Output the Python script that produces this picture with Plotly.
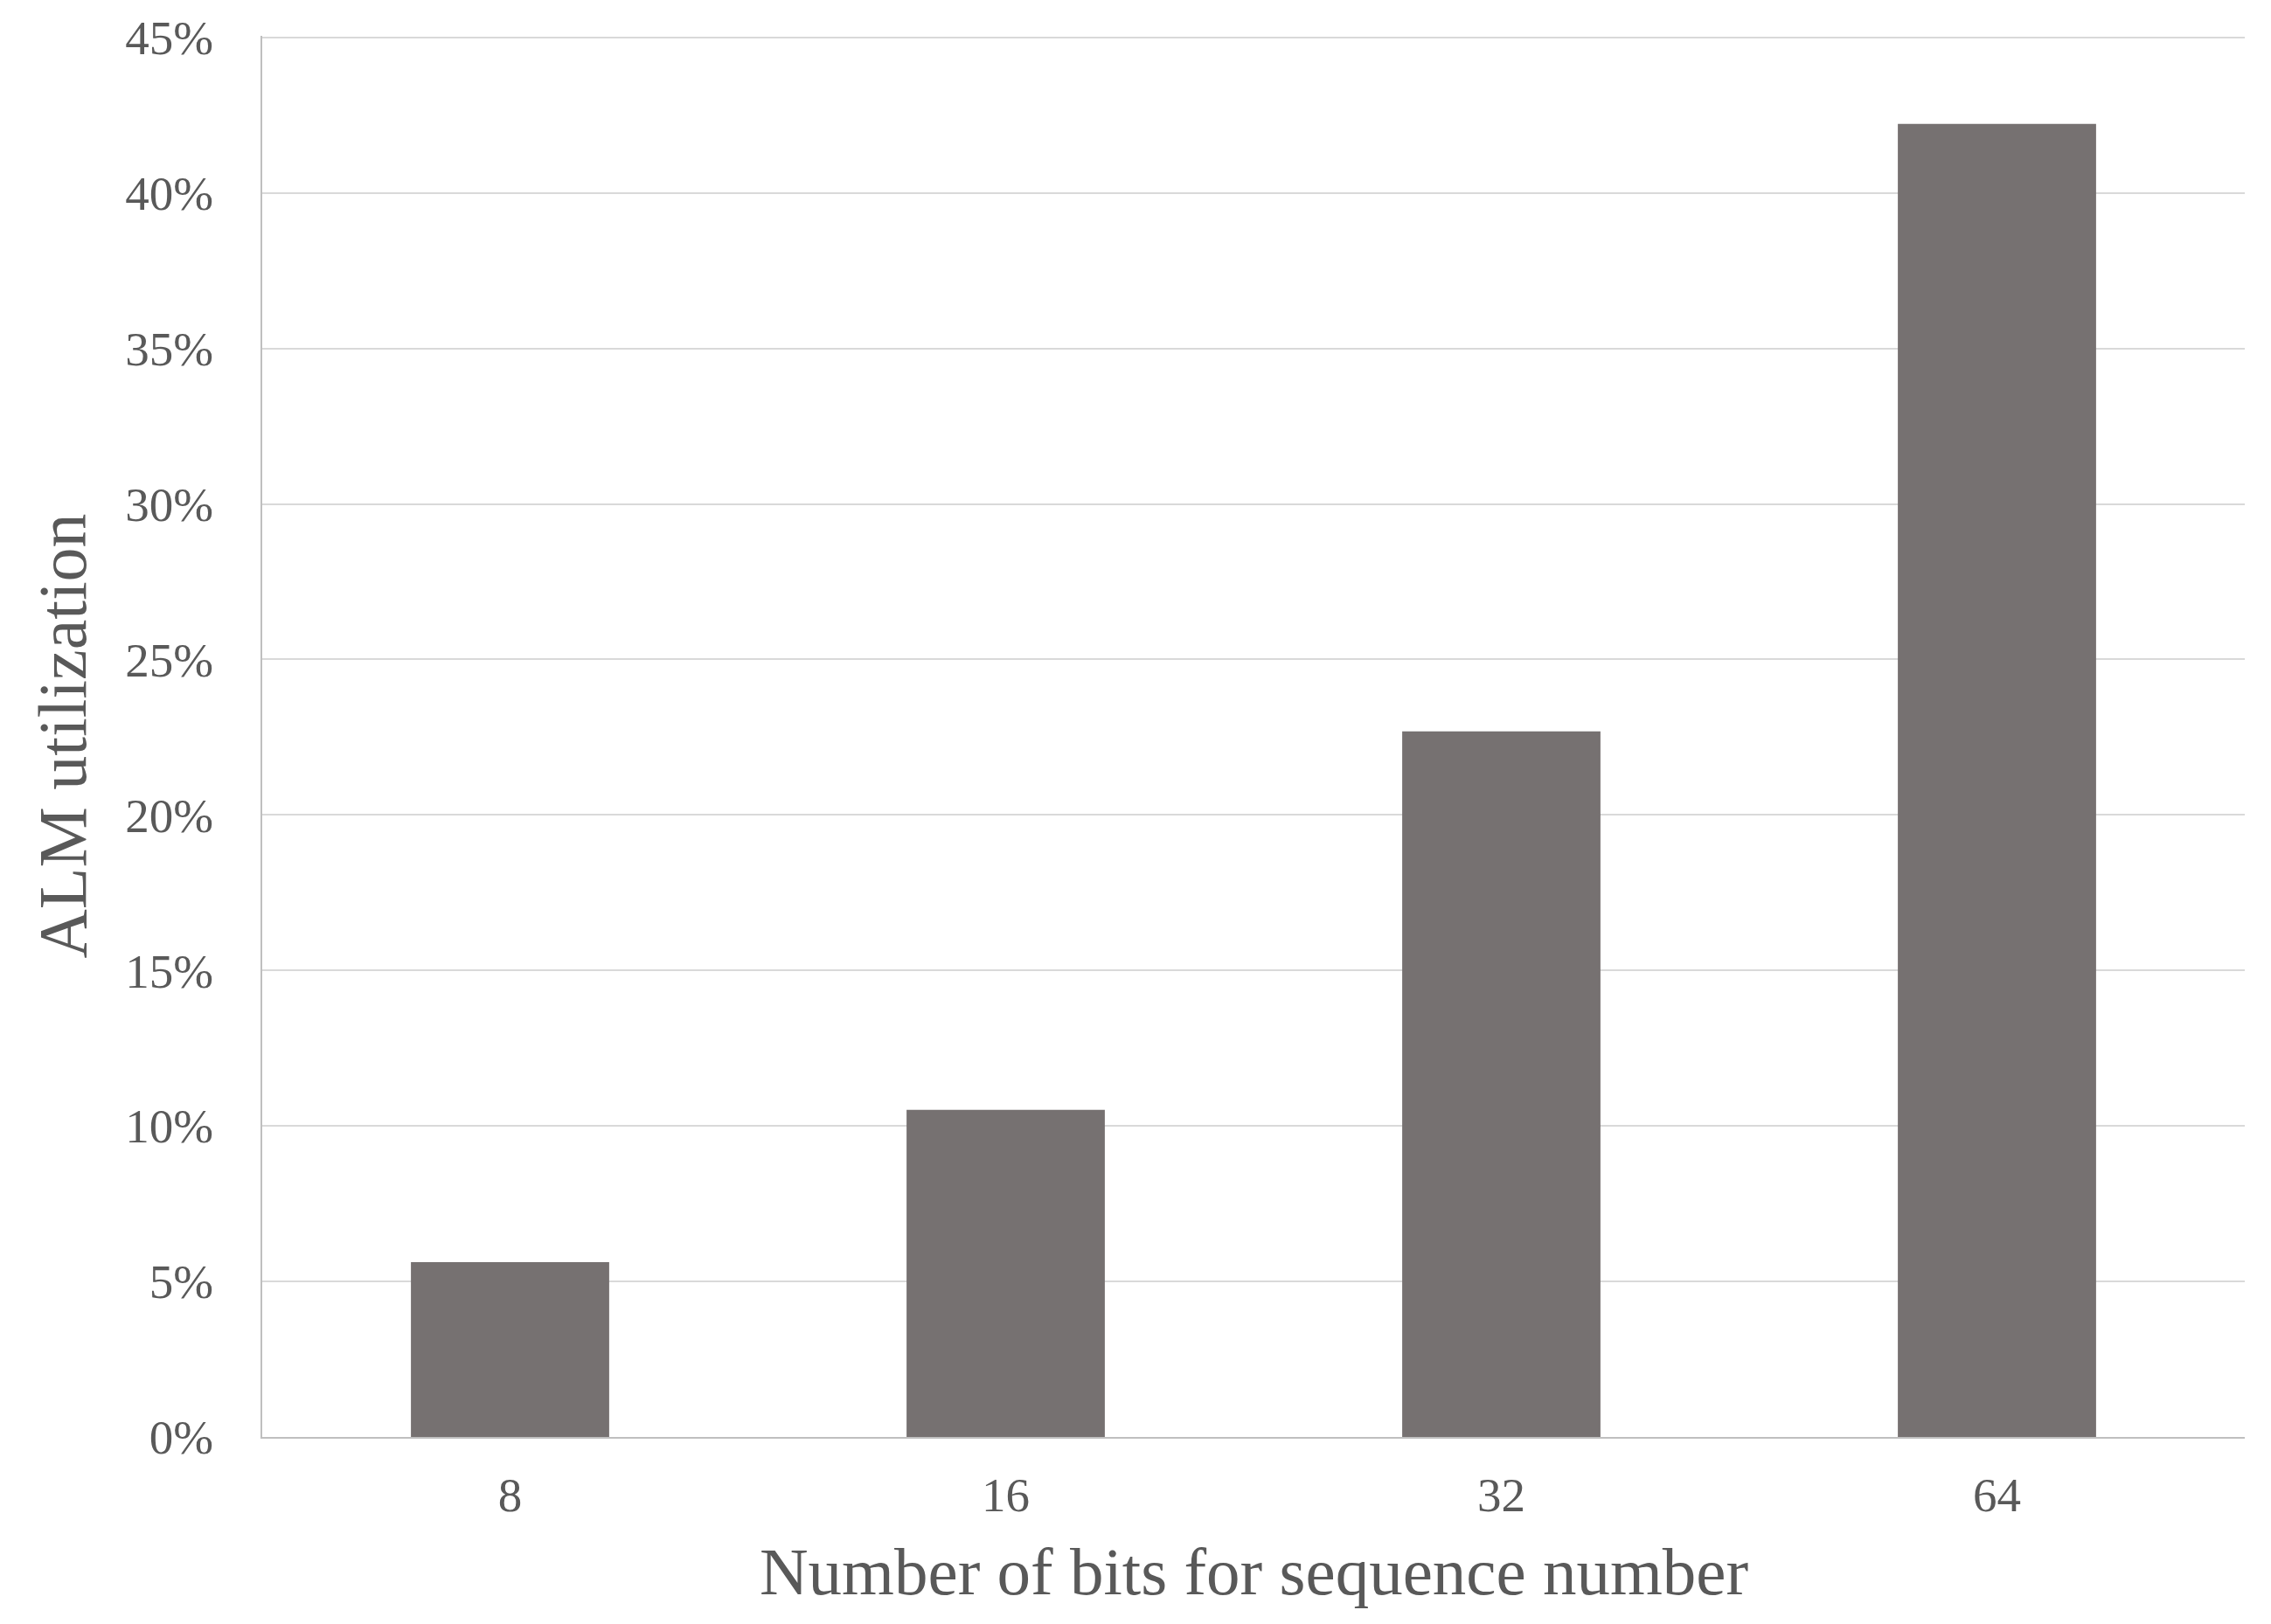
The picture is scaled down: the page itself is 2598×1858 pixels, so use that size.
import plotly.graph_objects as go

categories = ["8", "16", "32", "64"]
alm_util = [0.0562, 0.1052, 0.2269, 0.4222]
y_ticks = [0, 0.05, 0.10, 0.15, 0.20, 0.25, 0.30, 0.35, 0.40, 0.45]

TEXT = "#595959"
FONT = "Liberation Serif"

fig = go.Figure()
fig.add_trace(go.Bar(
    x=categories, y=alm_util,
    marker=dict(color="#767171", line=dict(width=0)),
    width=0.4,
))

fig.update_layout(
    width=2590, height=1850,
    margin=dict(l=292, r=30, t=33, b=214, autoexpand=False),
    paper_bgcolor="white", plot_bgcolor="white",
    showlegend=False,
    font=dict(family=FONT, color=TEXT),
    xaxis=dict(
        type="category",
        automargin=False,
        showgrid=False,
        showline=True, linecolor="#bfbfbf", linewidth=2,
        ticks="", tickfont=dict(family=FONT, size=55, color=TEXT),
        ticklabelstandoff=17,
    ),
    yaxis=dict(
        range=[0, 0.4505],
        automargin=False,
        tickvals=y_ticks,
        tickformat=".0%",
        showgrid=True, gridcolor="#d9d9d9", gridwidth=2,
        showline=True, linecolor="#bfbfbf", linewidth=2,
        zeroline=False,
        ticks="", tickfont=dict(family=FONT, size=55, color=TEXT),
        ticklabelstandoff=43,
    ),
    annotations=[
        dict(text="Number of bits for sequence number", xref="paper", yref="paper",
             x=0.5, y=0, xanchor="center", yanchor="middle", yshift=-154,
             showarrow=False, font=dict(family=FONT, size=77, color=TEXT)),
        dict(text="ALM utilization", xref="paper", yref="paper",
             x=0, y=0.5, xanchor="center", yanchor="middle", xshift=-229,
             textangle=-90, showarrow=False,
             font=dict(family=FONT, size=78, color=TEXT)),
    ],
)

fig.write_html("out.html")
